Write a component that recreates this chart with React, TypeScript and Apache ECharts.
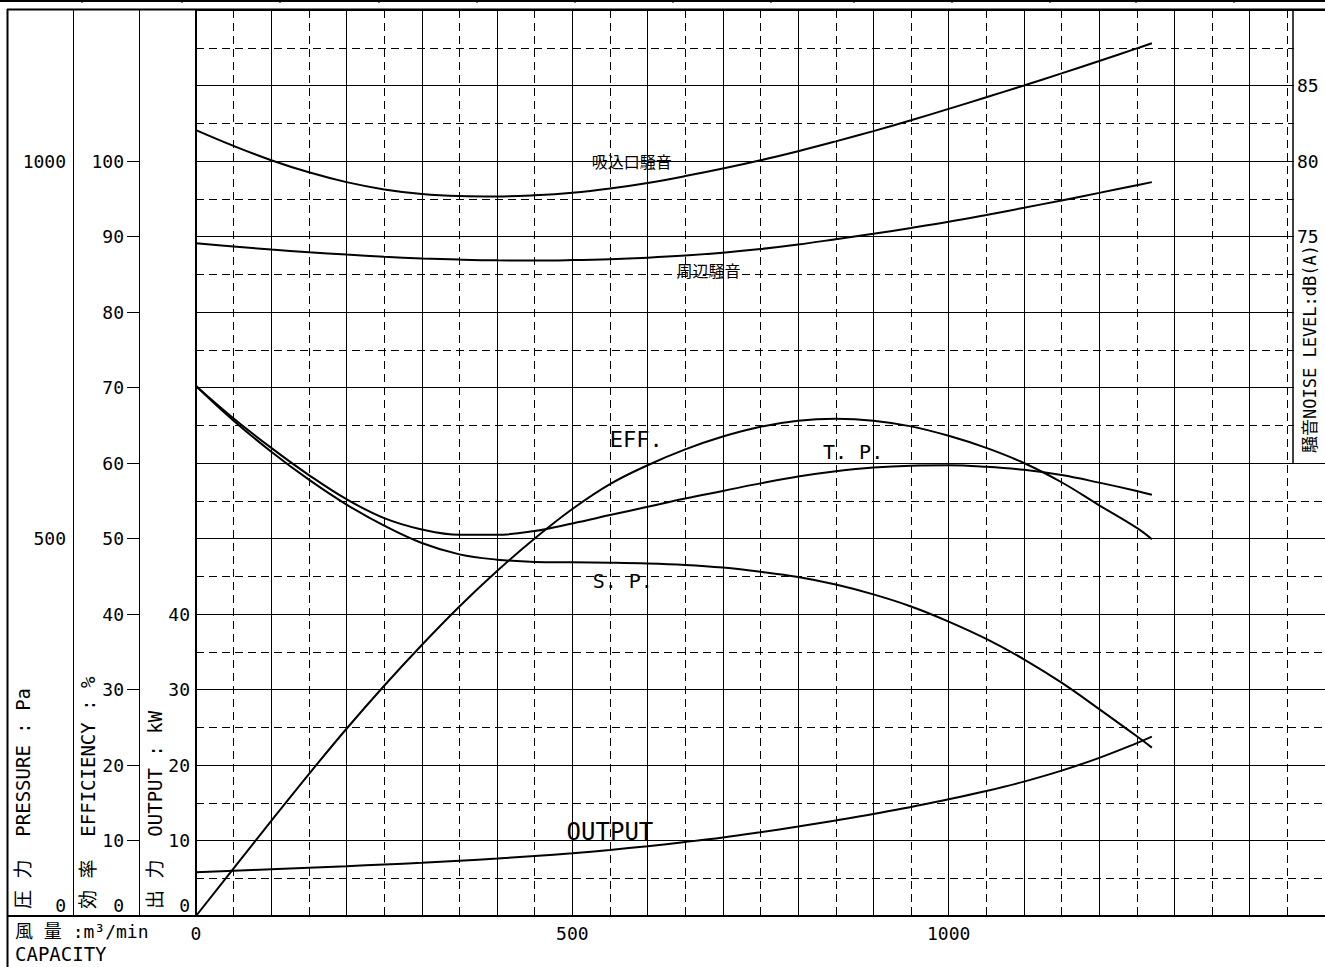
import React, { useEffect, useRef } from "react";
import * as echarts from "echarts";

// ---- data (capacity m3/min on x) ----
const X_VALUES = [0, 50, 100, 150, 200, 250, 300, 350, 400, 450, 500, 550, 600, 650, 700, 750, 800, 850, 900, 950, 1000, 1050, 1100, 1150, 1200, 1250, 1270];
const EFF = [0, 6.3, 12.6, 18.8, 24.8, 30.5, 35.9, 41.0, 45.7, 50.0, 53.9, 57.2, 59.7, 61.8, 63.5, 64.8, 65.6, 65.85, 65.6, 64.85, 63.6, 62.0, 60.0, 57.45, 54.4, 51.4, 49.9];
const TP = [702, 659, 620, 584, 552, 527, 512, 505, 505, 510, 520, 531, 542, 553, 563, 573, 582, 589, 594, 596.5, 597, 595, 591, 584, 574, 563, 558];
const SP = [702, 656, 615, 578, 545, 517, 494, 479, 472, 469, 468.5, 468, 467, 465, 461.5, 456, 449, 439, 426, 410, 390, 367, 340, 309, 274, 238, 223];
const OUTPUT = [5.8, 6.0, 6.2, 6.4, 6.6, 6.82, 7.05, 7.32, 7.62, 7.95, 8.32, 8.75, 9.25, 9.8, 10.4, 11.1, 11.85, 12.65, 13.5, 14.45, 15.45, 16.55, 17.8, 19.25, 20.95, 22.9, 23.75];
const NOISE_INLET = [82.05, 81.0, 80.05, 79.25, 78.6, 78.12, 77.82, 77.68, 77.65, 77.73, 77.9, 78.18, 78.55, 79.0, 79.5, 80.05, 80.65, 81.3, 81.98, 82.7, 83.45, 84.22, 85.0, 85.8, 86.62, 87.46, 87.8];
const NOISE_AROUND = [74.55, 74.34, 74.14, 73.96, 73.8, 73.66, 73.55, 73.47, 73.42, 73.41, 73.44, 73.5, 73.6, 73.74, 73.93, 74.17, 74.47, 74.82, 75.18, 75.57, 75.98, 76.43, 76.9, 77.39, 77.89, 78.4, 78.6];

// ---- tick labels ----
const X_LABELS = [0, 500, 1000];
const PRESSURE_LABELS = [0, 500, 1000];
const EFF_LABELS = [0, 10, 20, 30, 40, 50, 60, 70, 80, 90, 100];
const OUTPUT_LABELS = [0, 10, 20, 30, 40];
const NOISE_LABELS = [75, 80, 85];

// ---- texts ----
const NAME_INLET = "吸込口騒音";
const NAME_AROUND = "周辺騒音";
const NAME_EFF = "EFF.";
const NAME_TP = "T. P.";
const NAME_SP = "S. P.";
const NAME_OUT = "OUTPUT";
const TITLE_PRESSURE = "圧 力  PRESSURE : Pa";
const TITLE_EFF = "効 率  EFFICIENCY : %";
const TITLE_OUTPUT = "出 力  OUTPUT : kW";
const TITLE_NOISE = "騒音NOISE LEVEL:dB(A)";
const TITLE_CAPACITY_JP = "風 量 :m³/min";
const TITLE_CAPACITY_EN = "CAPACITY";

const MONO = "'DejaVu Sans Mono', 'Liberation Mono', 'Noto Sans CJK JP', monospace";
const BLACK = "#000";

const pairs = (ys: number[]) => X_VALUES.map((x, i) => [x, ys[i]]);

const zeroRich = {
  z: { padding: [0, 0, 22, 0], fontSize: 18, fontFamily: MONO, color: BLACK },
};
const zeroFmt = (v: number) => (v === 0 ? "{z|0}" : String(v));

function curve(name: string, data: number[], yAxisIndex: number, label: string, coord: number[], fontSize: number) {
  return {
    name,
    type: "line",
    xAxisIndex: 0,
    yAxisIndex,
    data: pairs(data),
    smooth: 0.4,
    showSymbol: false,
    silent: true,
    z: 3,
    lineStyle: { color: BLACK, width: 2 },
    itemStyle: { color: BLACK },
    markPoint: {
      symbol: "circle",
      symbolSize: 0,
      silent: true,
      itemStyle: { color: "transparent" },
      label: {
        show: true,
        position: "inside",
        formatter: label,
        color: BLACK,
        fontSize,
        fontFamily: MONO,
      },
      data: [{ coord }],
    },
  };
}

function buildOption() {
  const hiddenAxis = {
    axisLine: { show: false },
    axisTick: { show: false },
    axisLabel: { show: false },
  };
  const titleStyle = (text: string, size: number) => ({
    text,
    fontSize: size,
    fontFamily: MONO,
    fill: BLACK,
    align: "left",
    verticalAlign: "middle",
  });
  return {
    animation: false,
    backgroundColor: "#fff",
    grid: { left: 196, top: 10, right: -6, bottom: 51, containLabel: false },
    xAxis: [
      {
        type: "value",
        min: 0,
        max: 1500,
        interval: 100,
        position: "bottom",
        z: 4,
        axisLine: { show: true, onZero: false, lineStyle: { color: BLACK, width: 2 } },
        axisTick: { show: false },
        axisLabel: { customValues: X_LABELS, margin: 8, color: BLACK, fontSize: 18, fontFamily: MONO, formatter: (v: number) => String(v) },
        splitLine: { show: true, lineStyle: { color: BLACK, width: 1 } },
      },
      {
        type: "value",
        min: 0,
        max: 1500,
        interval: 50,
        position: "top",
        z: 0,
        ...hiddenAxis,
        splitLine: { show: true, lineStyle: { color: BLACK, width: 1, type: [8, 5] } },
      },
    ],
    yAxis: [
      {
        // efficiency %
        type: "value",
        min: 0,
        max: 120,
        interval: 10,
        position: "left",
        offset: 57,
        z: 4,
        axisLine: { show: true, onZero: false, lineStyle: { color: BLACK, width: 1 } },
        axisTick: { show: true, customValues: EFF_LABELS, length: 12, lineStyle: { color: BLACK, width: 1 } },
        axisLabel: { customValues: EFF_LABELS, margin: 15, color: BLACK, fontSize: 18, fontFamily: MONO, formatter: zeroFmt, rich: zeroRich },
        splitLine: { show: false },
      },
      {
        // pressure Pa
        type: "value",
        min: 0,
        max: 1200,
        interval: 100,
        position: "left",
        offset: 123,
        z: 4,
        axisLine: { show: true, onZero: false, lineStyle: { color: BLACK, width: 1 } },
        axisTick: { show: false },
        axisLabel: { customValues: PRESSURE_LABELS, margin: 7, color: BLACK, fontSize: 18, fontFamily: MONO, formatter: zeroFmt, rich: zeroRich },
        splitLine: { show: false },
      },
      {
        // output kW
        type: "value",
        min: 0,
        max: 120,
        interval: 10,
        position: "left",
        offset: 0,
        z: 4,
        axisLine: { show: true, onZero: false, lineStyle: { color: BLACK, width: 2 } },
        axisTick: { show: false },
        axisLabel: { customValues: OUTPUT_LABELS, margin: 6, color: BLACK, fontSize: 18, fontFamily: MONO, formatter: zeroFmt, rich: zeroRich },
        splitLine: { show: false },
      },
      {
        // noise dB(A)
        type: "value",
        min: 30,
        max: 90,
        interval: 5,
        position: "right",
        offset: -38,
        z: 5,
        axisLine: { show: false },
        axisTick: { show: false },
        axisLabel: { customValues: NOISE_LABELS, margin: 10, color: BLACK, fontSize: 18, fontFamily: MONO },
        splitLine: { show: false },
      },
      {
        type: "value",
        min: 0,
        max: 120,
        interval: 10,
        position: "left",
        z: 1,
        ...hiddenAxis,
        splitLine: { show: true, lineStyle: { color: BLACK, width: 1 } },
      },
      {
        type: "value",
        min: 0,
        max: 120,
        interval: 5,
        position: "left",
        z: 0,
        ...hiddenAxis,
        splitLine: { show: true, lineStyle: { color: BLACK, width: 1, type: [8, 5] } },
      },
    ],
    series: [
      curve("inlet", NOISE_INLET, 3, NAME_INLET, [579, 79.9], 16),
      curve("around", NOISE_AROUND, 3, NAME_AROUND, [681, 72.65], 16),
      curve("eff", EFF, 0, NAME_EFF, [585, 63.05], 22),
      curve("tp", TP, 1, NAME_TP, [873, 614.6], 20),
      curve("sp", SP, 1, NAME_SP, [567, 443.7], 20),
      curve("output", OUTPUT, 2, NAME_OUT, [550, 11.1], 24),
    ],
    graphic: [
      // cover grid in the noise-label column above 60
      { type: "rect", z: 2, silent: true, shape: { x: 1294, y: 11, width: 40, height: 451 }, style: { fill: "#fff" } },
      { type: "line", z: 3, silent: true, shape: { x1: 1293, y1: 9, x2: 1293, y2: 463 }, style: { stroke: BLACK, lineWidth: 1.5 } },
      // frame
      { type: "line", z: 6, silent: true, shape: { x1: 0, y1: 1, x2: 1325, y2: 1 }, style: { stroke: BLACK, lineWidth: 2 } },
      ...[82, 182, 280, 379, 477, 575, 673, 771, 854, 952, 1050, 1136, 1234].map((x) => ({
        type: "line", z: 6, silent: true, shape: { x1: x, y1: 0, x2: x, y2: 3 }, style: { stroke: BLACK, lineWidth: 1 },
      })),
      { type: "line", z: 6, silent: true, shape: { x1: 7, y1: 9.5, x2: 1325, y2: 9.5 }, style: { stroke: BLACK, lineWidth: 2 } },
      { type: "line", z: 6, silent: true, shape: { x1: 7.5, y1: 9, x2: 7.5, y2: 967 }, style: { stroke: BLACK, lineWidth: 2 } },
      { type: "line", z: 6, silent: true, shape: { x1: 7, y1: 916, x2: 1325, y2: 916 }, style: { stroke: BLACK, lineWidth: 2 } },
      // axis titles
      { type: "text", z: 6, silent: true, x: 23, y: 909, rotation: Math.PI / 2, style: titleStyle(TITLE_PRESSURE, 19) },
      { type: "text", z: 6, silent: true, x: 88, y: 909, rotation: Math.PI / 2, style: titleStyle(TITLE_EFF, 19) },
      { type: "text", z: 6, silent: true, x: 155, y: 909, rotation: Math.PI / 2, style: titleStyle(TITLE_OUTPUT, 19) },
      { type: "text", z: 6, silent: true, x: 1310, y: 453, rotation: Math.PI / 2, style: titleStyle(TITLE_NOISE, 17) },
      { type: "text", z: 6, silent: true, x: 15, y: 931, style: titleStyle(TITLE_CAPACITY_JP, 18) },
      { type: "text", z: 6, silent: true, x: 15, y: 954, style: titleStyle(TITLE_CAPACITY_EN, 19) },
    ],
  };
}

export default function App() {
  const ref = useRef<HTMLDivElement>(null);
  useEffect(() => {
    document.body.style.margin = "0";
    document.body.style.overflow = "hidden";
    const chart = echarts.init(ref.current as HTMLDivElement, undefined, { renderer: "svg" });
    chart.setOption(buildOption() as any);
    return () => {
      chart.dispose();
    };
  }, []);
  return <div ref={ref} style={{ width: 1325, height: 967, background: "#fff" }} />;
}
